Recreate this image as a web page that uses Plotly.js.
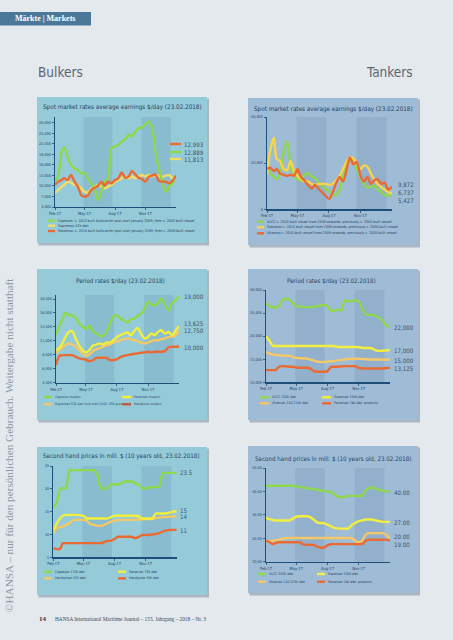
<!DOCTYPE html>
<html><head><meta charset="utf-8">
<script src="https://cdn.plot.ly/plotly-3.0.1.min.js"></script>
<style>html,body{margin:0;padding:0;background:#e4e9ee;overflow:hidden}#chart{width:453px;height:640px}</style>
</head><body><div id="chart"></div>
<script>
// ---------- DATA ----------
const dates = ['2017-02-01','2017-02-11','2017-02-21','2017-03-01','2017-03-11','2017-03-21','2017-04-01','2017-04-11','2017-04-21','2017-05-01','2017-05-11','2017-05-21','2017-06-01','2017-06-11','2017-06-21','2017-07-01','2017-07-11','2017-07-21','2017-08-01','2017-08-11','2017-08-21','2017-09-01','2017-09-11','2017-09-21','2017-10-01','2017-10-11','2017-10-21','2017-11-01','2017-11-11','2017-11-21','2017-12-01','2017-12-11','2017-12-21','2018-01-01','2018-01-11','2018-01-21','2018-02-01'];
const xTickVals = ['2017-02-01','2017-05-01','2017-08-01','2017-11-01'];
const xTickText = ['Feb-17','May-17','Aug-17','Nov-17'];
const bandStarts = ['2017-04-28','2017-10-20'];
const bandEnds = ['2017-07-24','2018-01-16'];

// Bulkers spot
const spotBulkTitle = 'Spot market rates average earnings $/day (23.02.2018)';
const spotBulkNames = ['Capesize: c. 2010 built bulkcarrier post start January 2009, then c. 2000 built vessel','Supramax 52k dwt','Panamax: c. 2010 built bulkcarrier post start January 2009, then c. 2000 built vessel'];
const spotBulkCape = [11240,13140,19810,21000,18380,16000,15050,14570,13620,13620,12190,10760,8860,6000,8380,11240,12190,20760,21240,21710,22670,23430,24570,24100,25520,26480,26670,27620,28380,26480,19810,15050,11240,8380,9810,10760,12889];
const spotBulkSupra = [7900,8860,9810,10290,11240,10950,10290,10100,9330,8380,8190,9140,9810,10290,9810,9330,9810,10290,11240,11710,12190,12670,12190,12670,12190,12670,13140,12670,13140,12670,13140,12950,12670,12950,13140,12190,11813];
const spotBulkPana = [10290,11240,11710,12190,11710,13140,11240,9810,7430,6950,7240,8860,9520,10100,11240,10100,11240,10760,11710,12190,13900,12380,12670,14290,13330,12380,12000,11240,12670,12950,13330,11430,11240,11240,10760,11430,12993];
const spotBulkLabels = ['12,993','12,889','11,813'];
const spotBulkTicks = [4000,7000,10000,13000,16000,19000,22000,25000,28000];

// Tankers spot
const spotTankTitle = 'Spot market rates average earnings $/day (23.02.2018)';
const spotTankNames = ['VLCC c. 2010 built vessel from 2009 onwards, previously c. 2000 built vessel','Suezmax c. 2010 built vessel from 2009 onwards, previously c. 2000 built vessel','Aframax c. 2010 built vessel from 2009 onwards, previously c. 2000 built vessel'];
const spotVLCC = [22000,15500,14200,13000,15500,24300,29500,18500,14500,13000,12500,15000,15500,14200,13500,11500,10300,9000,7800,6500,6000,8500,14000,19500,22000,21500,17500,13800,11000,9500,9800,10200,8500,7500,6000,6300,5427];
const spotSuez = [15000,26000,31000,22000,21000,17500,17000,21000,16500,14500,13000,12000,12000,11000,10500,11000,11000,11000,10500,11000,12500,14500,17500,20500,22500,22000,20000,17500,19000,18500,15500,13000,11000,9500,8500,7500,6737];
const spotAfra = [17500,18000,16500,17500,15500,15000,14500,15000,14500,17500,14000,12500,10500,9000,10500,9000,7500,6000,4500,7000,11000,14000,12000,17000,22500,19500,20500,14500,12000,14000,11000,12500,13000,11000,11500,8500,9872];
const spotTankLabels = ['9,872','6,737','5,427'];
const spotTankTicks = [0,20000,40000];

// Bulkers period
const perBulkTitle = 'Period rates $/day (23.02.2018)';
const perBulkNames = ['Capesize modern','Panamax modern','Supramax 52k dwt from start 2002, 45k previously','Handysize modern'];
const perCape = [12010,13800,14990,16060,15580,15580,15110,14090,13500,13080,13800,12730,12310,11890,11890,12610,14090,15280,15580,14990,14690,14270,14870,14990,15460,15880,16650,17960,17490,17370,17840,18560,17490,16480,17670,18260,19000];
const perPana = [9330,9750,10700,11710,12610,12730,11300,10110,9330,8920,9330,10110,10340,10520,10340,10700,10700,11120,11710,12010,12310,12490,12010,12730,13320,12310,11420,11710,12310,12010,12610,12900,12310,12610,12010,12730,13625];
const perSupra = [8740,9330,9870,10230,10520,10340,9930,9330,8740,8320,8560,9150,9510,9750,9930,10230,10340,10700,10940,11120,11300,11420,11300,11120,10940,10700,10520,10700,10940,11120,11120,11300,11420,11710,11710,12010,12750];
const perHandy = [6650,8320,8440,8440,8440,8440,8140,7850,7730,7610,7370,7490,7960,7960,7960,7960,7550,7550,7730,8080,8320,8440,8560,8680,8740,8860,8920,9040,8920,9040,9040,9040,9150,9870,9930,9930,10000];
const perBulkLabels = ['19,000','13,625','12,750','10,000'];
const perBulkTicks = [3500,6000,8500,11000,13500,16000,18500];

// Tankers period
const perTankTitle = 'Period rates $/day (23.02.2018)';
const tankNames = ['VLCC 310k dwt','Suezmax 150k dwt','Aframax 110-115k dwt','Panamax 74k dwt. products'];
const perVLCC = [27140,26500,26200,26200,26500,27800,28100,28000,27200,26500,26400,26350,26300,26300,26350,26500,26700,26750,26500,25500,25500,25800,25500,27800,27600,27600,27750,27600,26000,24800,24600,24600,24400,24000,23300,22300,22000];
const perSuez = [20000,19000,17900,17850,17850,17850,17850,17850,17850,17850,17850,17850,17850,17850,17850,17850,17850,17850,17850,17850,17850,17650,17650,17640,17640,17640,17640,17600,17500,17430,17430,17300,16930,16800,16850,16900,17000];
const perAfra = [16570,16250,16000,15950,15860,15800,15750,15750,15500,15280,15200,15200,15150,14900,14750,14500,14430,14430,14450,14550,14650,14750,14850,15000,15050,15100,15100,15100,15050,15000,14950,14950,14950,14950,14900,14900,15000];
const perPanaProd = [12640,12640,12640,12640,13360,13500,13450,13360,13360,13200,13140,13140,13140,13000,12430,12300,12300,12300,12400,13360,13360,13360,13450,13500,13500,13500,13500,13140,13000,13000,13000,13000,13000,13000,13000,13100,13125];
const perTankLabels = ['22,000','17,000','15,000','13,125'];
const perTankTicks = [10000,15000,20000,25000,30000];

// Bulkers second hand
const shTitle = 'Second hand prices in mill. $ (10 years old, 23.02.2018)';
const shBulkNames = ['Capesize 170k dwt','Panamax 75k dwt','Handymax 52k dwt','Handysize 35k dwt'];
const shCape = [15.7,17.0,20.1,20.1,20.1,24.1,24.1,24.1,24.1,24.1,24.1,24.1,24.1,23.2,20.1,20.1,20.1,21.0,21.0,21.0,21.2,21.6,21.6,21.6,21.2,21.0,20.1,20.1,20.3,20.4,20.4,20.4,23.4,23.5,23.5,23.5,23.5];
const shPana = [11.0,12.4,13.5,14.1,14.3,14.3,14.3,14.3,14.2,14.1,13.5,13.5,13.5,13.5,13.5,13.5,13.5,13.8,14.1,14.1,14.1,14.1,14.1,14.1,14.1,14.0,13.5,13.5,13.5,13.5,14.6,14.6,14.6,14.6,14.8,15.0,15.1];
const shHandymax = [10.3,11.4,11.6,11.8,12.1,12.5,13.2,13.2,13.2,13.2,13.0,12.3,12.1,11.9,11.9,12.1,12.4,12.8,13.0,13.2,13.2,13.2,13.2,13.2,13.2,13.3,13.3,13.4,13.4,13.4,13.6,13.7,13.8,13.8,13.9,13.9,14.0];
const shHandy = [7.0,6.8,6.8,8.1,8.1,8.1,8.1,8.1,8.1,8.1,8.1,8.1,8.1,8.1,8.1,8.3,8.6,8.6,9.0,9.5,9.5,9.5,9.5,9.5,9.2,9.4,9.9,9.9,9.9,10.0,10.1,10.3,10.6,10.9,11.0,11.0,11.0];
const shBulkLabels = ['23.5','15','14','11'];
const shBulkTicks = [5,10,15,20,25];

// Tankers second hand
const shVLCC = [42.4,42.4,42.4,42.4,42.4,42.4,42.4,42.4,42.4,42.2,41.9,41.6,41.4,41.2,41.0,40.8,40.4,40.2,40.0,39.6,38.8,37.8,37.3,37.8,38.1,38.1,38.1,38.1,38.1,40.5,41.4,41.7,41.2,40.5,40.3,40.1,40.0];
const shSuez = [28.7,28.2,27.8,27.6,27.6,27.6,27.6,27.6,28.4,29.2,29.4,29.4,29.4,29.0,28.0,26.8,26.5,26.5,25.8,25.2,24.4,24.2,24.1,24.1,24.1,25.5,26.5,27.3,27.6,28.0,28.0,28.0,27.6,27.3,27.0,27.0,27.0];
const shAfra = [18.6,18.9,18.9,19.2,19.4,19.8,20.1,20.1,20.1,20.1,20.1,20.1,20.1,20.1,20.1,20.1,20.1,20.1,20.1,20.1,20.1,20.1,20.1,20.1,20.1,20.1,19.0,18.3,18.9,21.5,22.2,22.2,22.2,22.2,22.2,21.5,20.0];
const shPanaProd = [18.9,18.4,17.4,18.0,18.3,18.3,18.3,18.3,18.3,18.3,18.3,17.4,17.2,17.2,17.2,16.4,16.0,16.0,17.0,17.5,17.5,17.5,17.5,17.5,17.5,17.5,17.5,17.5,17.5,18.8,19.4,19.4,19.4,19.4,19.4,19.4,19.0];
const shTankLabels = ['40.00','27.00','20.00','19.00'];
const shTankTicks = [10,20,30,40,50];

// ---------- STYLE ----------
const W = 453, H = 640;
const X = p => p / W, Y = p => 1 - p / H;
const NARROW = "'Liberation Sans Narrow','DejaVu Sans Condensed','Arial Narrow',sans-serif";
const SERIF = "'Liberation Serif','DejaVu Serif',serif";
const GREEN = '#8fd84b', YELLOW = '#f2ee3e', TAN = '#f4c768', ORANGE = '#ea6a34', PALEY = '#f1de66', GOLD = '#f6d44c';
const BULK = '#95cad9', TANK = '#9fbcd7';
const AXIS = '#1d4f7a', TXT = '#25415e', LBL = '#3c5166';

const panels = [
  {dom:[55,176,117,207], yr:[4000,29700], box:[37,97,207,243], bg:BULK, title:spotBulkTitle, tx:122, ty:107, tsize:6.3,
   series:[[spotBulkSupra,PALEY],[spotBulkCape,GREEN],[spotBulkPana,ORANGE]], ticks:spotBulkTicks, fmt:',', smooth:true,
   legend:{names:spotBulkNames, colors:[GREEN,PALEY,ORANGE], cols:[[48,55,57]], rows:[220.7,225.7,231], ncol:1, size:3.6},
   labels:spotBulkLabels, lx:183, ly:[144,152,159], dash:[ORANGE,GREEN,PALEY]},
  {dom:[267,392,117,209.3], yr:[0,40000], box:[248,98,418,245], bg:TANK, title:spotTankTitle, tx:333, ty:109, tsize:6.3,
   series:[[spotVLCC,GREEN],[spotSuez,GOLD],[spotAfra,ORANGE]], ticks:spotTankTicks, fmt:',', smooth:true,
   legend:{names:spotTankNames, colors:[GREEN,GOLD,ORANGE], cols:[[257,264,266]], rows:[221.7,227.3,233.3], ncol:1, size:3.6},
   labels:spotTankLabels, lx:397, ly:[184,192.8,200.3]},
  {dom:[56,179,295,382.7], yr:[3500,19217], box:[37,269,207,420], bg:BULK, title:perBulkTitle, tx:120, ty:281, tsize:6.2,
   series:[[perSupra,TAN],[perPana,YELLOW],[perCape,GREEN],[perHandy,ORANGE]], ticks:perBulkTicks, fmt:',', smooth:true,
   legend:{names:perBulkNames, colors:[GREEN,YELLOW,TAN,ORANGE], cols:[[44,52,54],[122,131,133]], rows:[397,404.3], ncol:2, size:3.3},
   labels:perBulkLabels, lx:183, ly:[296.7,323.7,330.7,347.3]},
  {dom:[266,390,290,382.3], yr:[10000,30000], box:[248,269,418,420], bg:TANK, title:perTankTitle, tx:331, ty:281, tsize:6.2,
   series:[[perVLCC,GREEN],[perSuez,YELLOW],[perAfra,TAN],[perPanaProd,ORANGE]], ticks:perTankTicks, fmt:',', smooth:false,
   legend:{names:tankNames, colors:[GREEN,YELLOW,TAN,ORANGE], cols:[[260,269,271],[322,331,333]], rows:[397.3,403.3], ncol:2, size:3.5},
   labels:perTankLabels, lx:393, ly:[327.7,350.7,360,368.3]},
  {dom:[53.3,176.7,466,557.3], yr:[5,25], box:[37,447,207,595], bg:BULK, title:shTitle, tx:121, ty:456, tsize:6.2,
   series:[[shCape,GREEN],[shHandymax,TAN],[shPana,YELLOW],[shHandy,ORANGE]], ticks:shBulkTicks, fmt:'d', smooth:false,
   legend:{names:shBulkNames, colors:[GREEN,YELLOW,TAN,ORANGE], cols:[[44,52,54],[118,126,128]], rows:[571.7,578.3], ncol:2, size:3.5},
   labels:shBulkLabels, lx:179, ly:[472.3,510,516.7,530.7]},
  {dom:[266,390,468,561.7], yr:[10,50], box:[248,446,418,593], bg:TANK, title:shTitle, tx:333, ty:459, tsize:6.2,
   series:[[shVLCC,GREEN],[shSuez,YELLOW],[shAfra,TAN],[shPanaProd,ORANGE]], ticks:shTankTicks, fmt:'.2f', smooth:false,
   legend:{names:tankNames, colors:[GREEN,YELLOW,TAN,ORANGE], cols:[[258,266,268],[317,325,327]], rows:[574,581.7], ncol:2, size:3.5},
   labels:shTankLabels, lx:393, ly:[492.3,522.3,536.7,544.3]}
];

const traces = [], shapes = [], annotations = [];
const layout = {
  width: W, height: H, margin:{l:0,r:0,t:0,b:0},
  paper_bgcolor:'#e4e9ee', plot_bgcolor:'rgba(0,0,0,0)', showlegend:false,
  font:{family:NARROW, color:TXT}
};

// header + page texts
shapes.push({type:'rect', xref:'paper', yref:'paper', x0:X(0), x1:X(91), y0:Y(12), y1:Y(25.5), fillcolor:'#4b7898', line:{width:0}, layer:'below'});
annotations.push({xref:'paper',yref:'paper',x:X(13),y:Y(18.8),xanchor:'left',yanchor:'middle',showarrow:false,text:'<b>Märkte | Markets</b>',font:{family:SERIF,size:8,color:'#ffffff'}});
annotations.push({xref:'paper',yref:'paper',x:X(36),y:Y(72),xanchor:'left',yanchor:'middle',showarrow:false,text:'Bulkers',font:{family:NARROW,size:13.5,color:'#5b6570'}});
annotations.push({xref:'paper',yref:'paper',x:X(415),y:Y(72),xanchor:'right',yanchor:'middle',showarrow:false,text:'Tankers',font:{family:NARROW,size:13.5,color:'#5b6570'}});
annotations.push({xref:'paper',yref:'paper',x:X(9),y:Y(445),xanchor:'center',yanchor:'middle',showarrow:false,textangle:-90,text:'©HANSA – nur für den persönlichen Gebrauch. Weitergabe nicht statthaft',font:{family:SERIF,size:11.2,color:'#8a97a4'}});
annotations.push({xref:'paper',yref:'paper',x:X(37),y:Y(619),xanchor:'left',yanchor:'middle',showarrow:false,text:'<b>14</b>',font:{family:SERIF,size:7,color:'#2a3a4a'}});
annotations.push({xref:'paper',yref:'paper',x:X(53),y:Y(619),xanchor:'left',yanchor:'middle',showarrow:false,text:'HANSA International Maritime Journal – 155. Jahrgang – 2018 – Nr. 3',font:{family:SERIF,size:5.3,color:'#3a4858'}});

panels.forEach((p, i) => {
  const n = i === 0 ? '' : String(i + 1);
  const xa = 'x' + n, ya = 'y' + n;
  const [bx0, by0, bx1, by1] = p.box;
  shapes.push({type:'rect', xref:'paper', yref:'paper', x0:X(bx0+1.5), x1:X(bx1+2), y0:Y(by1+2.5), y1:Y(by0+1.5), fillcolor:'rgba(70,90,110,0.35)', line:{width:0}, layer:'below'});
  shapes.push({type:'rect', xref:'paper', yref:'paper', x0:X(bx0), x1:X(bx1), y0:Y(by1), y1:Y(by0), fillcolor:p.bg, line:{width:0}, layer:'below'});
  bandStarts.forEach((s, j) => {
    shapes.push({type:'rect', xref:xa, yref:ya + ' domain', x0:s, x1:bandEnds[j], y0:0, y1:1, fillcolor:'rgba(20,60,100,0.09)', line:{width:0}, layer:'below'});
  });
  layout['xaxis' + n] = {
    domain:[X(p.dom[0]), X(p.dom[1])], anchor:ya, type:'date', range:[dates[0], dates[dates.length-1]],
    tickvals:xTickVals, ticktext:xTickText, tickfont:{size:4, color:TXT, family:NARROW},
    showline:true, linecolor:AXIS, linewidth:1.3, ticks:'outside', ticklen:2, tickwidth:0.8, tickcolor:AXIS,
    showgrid:false, zeroline:false, fixedrange:true
  };
  layout['yaxis' + n] = {
    domain:[Y(p.dom[3]), Y(p.dom[2])], anchor:xa, range:p.yr,
    tickvals:p.ticks, tickformat:p.fmt, tickfont:{size:3.8, color:TXT, family:NARROW},
    showline:true, linecolor:AXIS, linewidth:1.3, ticks:'outside', ticklen:2, tickwidth:0.8, tickcolor:AXIS,
    showgrid:false, zeroline:false, fixedrange:true
  };
  p.series.forEach(([vals, col]) => {
    traces.push({type:'scatter', mode:'lines', x:dates, y:vals, xaxis:xa, yaxis:ya,
      line:{color:col, width:2.4, shape:'spline', smoothing:p.smooth ? 0.8 : 0.3}, hoverinfo:'skip'});
  });
  annotations.push({xref:'paper',yref:'paper',x:X(p.tx),y:Y(p.ty),xanchor:'center',yanchor:'middle',showarrow:false,text:p.title,font:{family:NARROW,size:p.tsize,color:TXT}});
  const L = p.legend;
  L.names.forEach((name, k) => {
    const col = L.ncol === 1 ? 0 : k % 2;
    const row = L.ncol === 1 ? k : Math.floor(k / 2);
    const [sx0, sx1, tx] = L.cols[col];
    const yy = L.rows[row];
    shapes.push({type:'line', xref:'paper', yref:'paper', x0:X(sx0), x1:X(sx1), y0:Y(yy), y1:Y(yy), line:{color:L.colors[k], width:2.4}});
    annotations.push({xref:'paper',yref:'paper',x:X(tx),y:Y(yy),xanchor:'left',yanchor:'middle',showarrow:false,borderpad:0,text:name,font:{family:NARROW,size:L.size,color:TXT}});
  });
  p.labels.forEach((t, k) => {
    if (p.dash) {
      shapes.push({type:'line', xref:'paper', yref:'paper', x0:X(170), x1:X(181), y0:Y(p.ly[k]), y1:Y(p.ly[k]), line:{color:p.dash[k], width:2.4}});
    }
    annotations.push({xref:'paper',yref:'paper',x:X(p.lx),y:Y(p.ly[k]),xanchor:'left',yanchor:'middle',showarrow:false,borderpad:0,text:t,font:{family:NARROW,size:6.1,color:LBL}});
  });
});

layout.shapes = shapes;
layout.annotations = annotations;
Plotly.newPlot('chart', traces, layout, {staticPlot:true, displayModeBar:false});
</script>
</body></html>
